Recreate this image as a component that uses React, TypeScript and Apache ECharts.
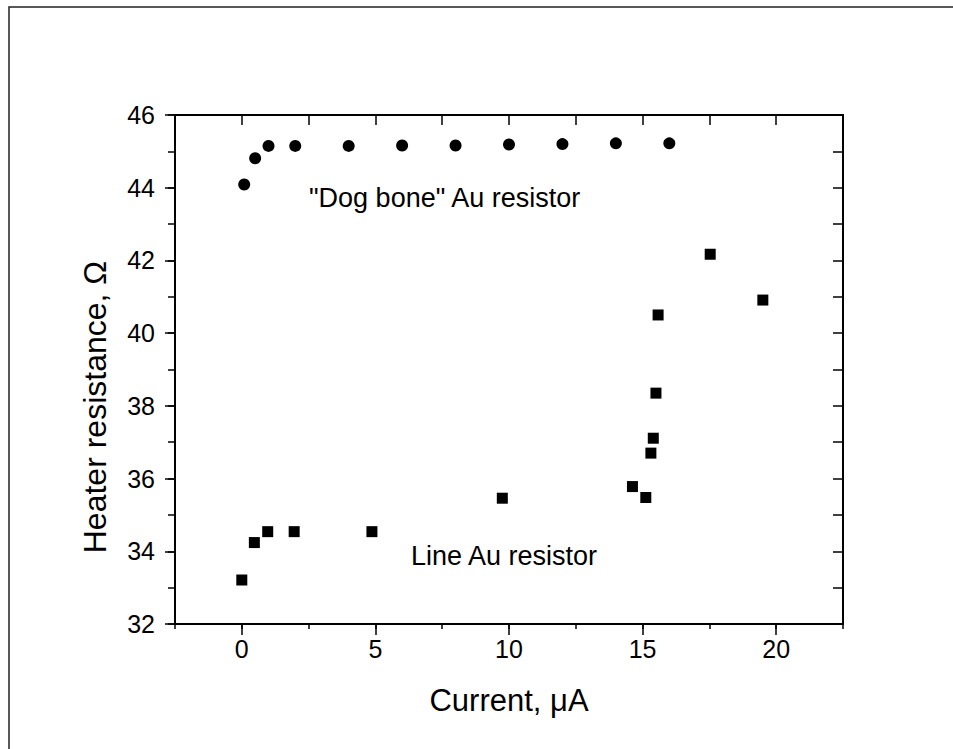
import React, { useEffect, useRef } from "react";
import * as echarts from "echarts";

const dogBoneCurrent = [0.09, 0.5, 1.0, 2.0, 4.0, 6.0, 8.0, 10.0, 12.0, 14.0, 16.0];
const dogBoneResistance = [44.09, 44.81, 45.15, 45.15, 45.15, 45.16, 45.16, 45.19, 45.2, 45.22, 45.22];

const lineCurrent = [0, 0.47, 0.97, 1.96, 4.87, 9.75, 14.62, 15.12, 15.31, 15.4, 15.5, 15.58, 17.53, 19.5];
const lineResistance = [33.21, 34.24, 34.54, 34.54, 34.54, 35.46, 35.78, 35.48, 36.7, 37.11, 38.35, 40.5, 42.17, 40.91];

const xMajorTicks = [0, 5, 10, 15, 20];
const yMajorTicks = [32, 34, 36, 38, 40, 42, 44, 46];

const xTitle = "Current, \u03bcA";
const yTitle = "Heater resistance, \u03a9";
const dogBoneLabel = '"Dog bone" Au resistor';
const lineLabel = "Line Au resistor";

const FONT = "'Liberation Sans', Arial, sans-serif";

export default function App() {
  const ref = useRef<HTMLDivElement>(null);
  useEffect(() => {
    if (!ref.current) return;
    const chart = echarts.init(ref.current, null, { renderer: "svg" });
    const toPairs = (xs: number[], ys: number[]) => xs.map((x, i) => [x, ys[i]]);
    const axisLine = { show: true, onZero: false, lineStyle: { color: "#000", width: 2 } };
    const noLine = { show: false, onZero: false };
    const xRange = { type: "value" as const, min: -2.5, max: 22.5, interval: 2.5, splitLine: { show: false } };
    const yRange = { type: "value" as const, min: 32, max: 46, interval: 1, splitLine: { show: false } };
    chart.setOption({
      animation: false,
      backgroundColor: "#fff",
      grid: { left: 175, top: 115, width: 668, height: 509 },
      xAxis: [
        {
          ...xRange,
          position: "bottom",
          axisLine,
          axisTick: { show: true, inside: false, length: 5, lineStyle: { color: "#000", width: 1.5 } },
          axisLabel: { show: false },
        },
        {
          ...xRange,
          position: "bottom",
          axisLine: noLine,
          axisTick: { show: true, inside: false, length: 11, customValues: xMajorTicks, lineStyle: { color: "#000", width: 1.5 } },
          axisLabel: {
            show: true,
            customValues: xMajorTicks,
            margin: 12,
            color: "#000",
            fontSize: 25,
            fontFamily: FONT,
          },
        },
        {
          ...xRange,
          position: "top",
          axisLine,
          axisTick: { show: true, inside: true, length: 10, lineStyle: { color: "#000", width: 1.5 } },
          axisLabel: { show: false },
        },
      ],
      yAxis: [
        {
          ...yRange,
          position: "left",
          axisLine,
          axisTick: { show: true, inside: false, length: 7, lineStyle: { color: "#000", width: 1.5 } },
          axisLabel: { show: false },
        },
        {
          ...yRange,
          position: "left",
          axisLine: noLine,
          axisTick: { show: true, inside: false, length: 10, customValues: yMajorTicks, lineStyle: { color: "#000", width: 1.5 } },
          axisLabel: {
            show: true,
            customValues: yMajorTicks,
            margin: 20,
            color: "#000",
            fontSize: 25,
            fontFamily: FONT,
          },
        },
        {
          ...yRange,
          position: "right",
          axisLine,
          axisTick: { show: true, inside: true, length: 10, lineStyle: { color: "#000", width: 1.5 } },
          axisLabel: { show: false },
        },
      ],
      series: [
        {
          name: "Dog bone",
          type: "scatter",
          xAxisIndex: 0,
          yAxisIndex: 0,
          symbol: "circle",
          symbolSize: 12,
          itemStyle: { color: "#000", opacity: 1 },
          data: toPairs(dogBoneCurrent, dogBoneResistance),
        },
        {
          name: "Line",
          type: "scatter",
          xAxisIndex: 0,
          yAxisIndex: 0,
          symbol: "rect",
          symbolSize: 11,
          itemStyle: { color: "#000", opacity: 1 },
          data: toPairs(lineCurrent, lineResistance),
        },
      ],
      graphic: [
        {
          type: "rect",
          shape: { x: 9, y: 7, width: 2000, height: 2000 },
          style: { fill: "none", stroke: "#222", lineWidth: 1.5 },
          silent: true,
        },
        {
          type: "text",
          x: 509,
          y: 700,
          style: { text: xTitle, fill: "#000", font: `31px ${FONT}`, align: "center", verticalAlign: "middle" },
        },
        {
          type: "text",
          x: 95,
          y: 407,
          rotation: Math.PI / 2,
          style: { text: yTitle, fill: "#000", font: `32px ${FONT}`, align: "center", verticalAlign: "middle" },
        },
        {
          type: "text",
          x: 309,
          y: 197.5,
          style: { text: dogBoneLabel, fill: "#000", font: `27px ${FONT}`, align: "left", verticalAlign: "middle" },
        },
        {
          type: "text",
          x: 411,
          y: 555.5,
          style: { text: lineLabel, fill: "#000", font: `27px ${FONT}`, align: "left", verticalAlign: "middle" },
        },
      ],
    });
    return () => chart.dispose();
  }, []);
  return (
    <div
      ref={ref}
      style={{ position: "fixed", left: 0, top: 0, width: 953, height: 749, background: "#fff" }}
    />
  );
}
